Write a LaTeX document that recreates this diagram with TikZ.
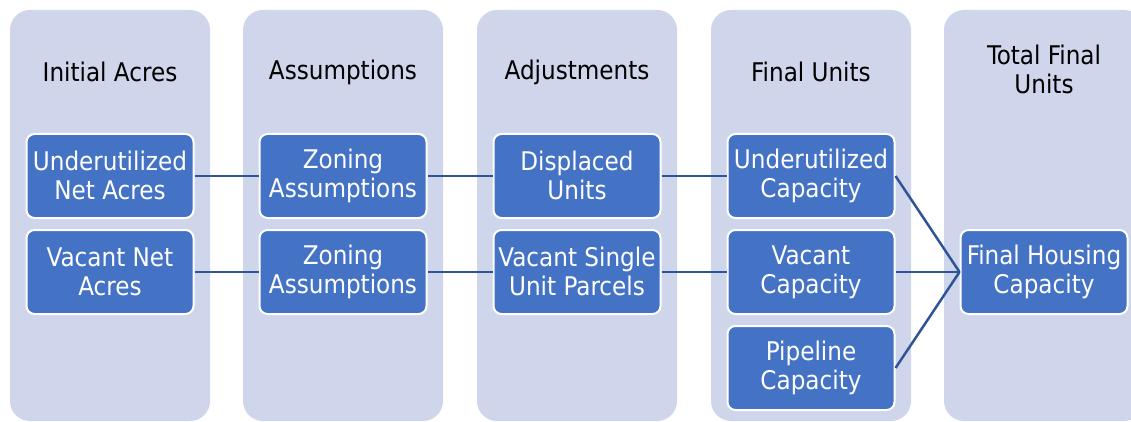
\documentclass[tikz,border=0pt]{standalone}
\usepackage{fontspec}
\setmainfont{DejaVu Sans Condensed}
\definecolor{colbg}{HTML}{CFD5EA}
\definecolor{boxblue}{HTML}{4472C4}
\definecolor{linkblue}{HTML}{2F5597}
\newcommand{\topstrut}{\rule{0pt}{26pt}}
\newcommand{\botstrut}{\rule[-1pt]{0pt}{1pt}}
\begin{document}
\begin{tikzpicture}[x=1pt,y=-1pt,
  colbox/.style={fill=colbg, rounded corners=20pt},
  title/.style={font=\fontsize{25.7}{29}\selectfont, text=black, align=center,
    inner sep=0pt, execute at begin node=\topstrut, execute at end node=\botstrut},
  stagebox/.style={fill=boxblue, draw=white, line width=2pt, rounded corners=8pt,
    minimum width=167pt, minimum height=84pt, inner sep=0pt, text=white,
    align=center, font=\fontsize{25.7}{29}\selectfont,
    execute at begin node=\topstrut, execute at end node=\botstrut},
  link/.style={draw=linkblue, line width=2.5pt}]
\useasboundingbox (0,0) rectangle (1131,422);
\begin{scope}
\clip (0,0) rectangle (1131,422);
\fill[colbox] (10,10) rectangle (210,421);
\fill[colbox] (243,10) rectangle (443,421);
\fill[colbox] (477,10) rectangle (677,421);
\fill[colbox] (711,10) rectangle (911,421);
\fill[colbox] (944,10) rectangle (1144,421);
\end{scope}
\node[title] (t1) at (110,69.5) {Initial Acres};
\node[title] (t2) at (343,69.5) {Assumptions};
\node[title] (t3) at (577,69.5) {Adjustments};
\node[title] (t4) at (811,69.5) {Final Units};
\node[title] (t5) at (1044,70) {Total Final\\Units};
\node[stagebox] (a1) at (110,176) {Underutilized\\Net Acres};
\node[stagebox] (a2) at (110,272) {Vacant Net\\Acres};
\node[stagebox] (b1) at (343,176) {Zoning\\Assumptions};
\node[stagebox] (b2) at (343,272) {Zoning\\Assumptions};
\node[stagebox] (c1) at (577,176) {Displaced\\Units};
\node[stagebox] (c2) at (577,272) {Vacant Single\\Unit Parcels};
\node[stagebox] (d1) at (811,176) {Underutilized\\Capacity};
\node[stagebox] (d2) at (811,272) {Vacant\\Capacity};
\node[stagebox] (d3) at (811,368) {Pipeline\\Capacity};
\node[stagebox] (e1) at (1044,272) {Final Housing\\Capacity};
\draw[link] (a1.east) -- (b1.west);
\draw[link] (b1.east) -- (c1.west);
\draw[link] (c1.east) -- (d1.west);
\draw[link] (a2.east) -- (b2.west);
\draw[link] (b2.east) -- (c2.west);
\draw[link] (c2.east) -- (d2.west);
\draw[link] (d1.east) -- (e1.west);
\draw[link] (d2.east) -- (e1.west);
\draw[link] (d3.east) -- (e1.west);
\end{tikzpicture}
\end{document}
